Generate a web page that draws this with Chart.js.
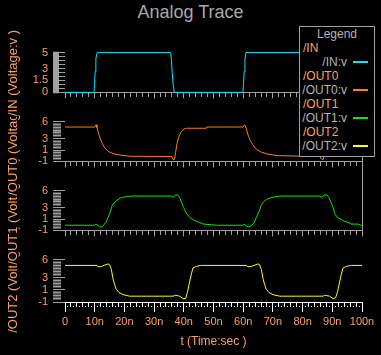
<!DOCTYPE html>
<html><head><meta charset="utf-8">
<script src="https://cdn.jsdelivr.net/npm/chart.js@4"></script>
<style>
html,body{margin:0;padding:0;background:#000;}
#wrap{position:relative;width:381px;height:355px;overflow:hidden;background:#000;font-family:'Liberation Sans',Arial,sans-serif;}
.pc{position:absolute;left:0;z-index:1;}
.yt{position:absolute;left:12px;white-space:nowrap;color:#ffa060;font-size:13px;line-height:13px;background:#000;transform:translate(-50%,-50%) rotate(-90deg);padding:0 1px;}
.lg{position:absolute;font-size:12px;line-height:14px;white-space:nowrap;z-index:11;}
.ln{position:absolute;left:353px;width:15px;height:2px;z-index:11;}
</style>
</head><body>
<div id="wrap">
  <div style="position:absolute;left:0;top:3px;width:381px;text-align:center;color:#a8a8a8;font-size:18px;line-height:18px;">Analog Trace</div>

  <div class="yt" style="top:279px;z-index:2;">/OUT2 (Voltage:v )</div>
  <div class="yt" style="top:210.5px;z-index:3;">/OUT1 (Voltage:v )</div>
  <div class="yt" style="top:141.5px;z-index:4;">/OUT0 (Voltage:v )</div>
  <div class="yt" style="top:73px;z-index:5;">/IN (Voltage:v )</div>

  <canvas id="c1" class="pc" width="381" height="63" style="top:41px"></canvas>
  <canvas id="c2" class="pc" width="381" height="63" style="top:110px"></canvas>
  <canvas id="c3" class="pc" width="381" height="63" style="top:179px"></canvas>
  <canvas id="c4" class="pc" width="381" height="107" style="top:248px"></canvas>

  <div style="position:absolute;left:362px;top:150px;width:1px;height:84px;background:#a0a0a0;z-index:9;"></div>

  <div style="position:absolute;left:299px;top:26px;width:76px;height:131px;box-sizing:border-box;border:1px solid #a0a0a0;background:#000;z-index:10;"></div>
  <div class="lg" style="left:299px;width:76px;text-align:center;top:27px;color:#b4b4b4;">Legend</div>
  <div class="lg" style="left:303px;top:41px;color:#ffa060;">/IN</div>
  <div class="lg" style="left:299px;width:48px;text-align:right;top:55px;color:#b4b4b4;">/IN:v</div>
  <div class="ln" style="top:61px;background:#00e8ff;"></div>
  <div class="lg" style="left:303px;top:69px;color:#ffa060;">/OUT0</div>
  <div class="lg" style="left:299px;width:48px;text-align:right;top:83px;color:#b4b4b4;">/OUT0:v</div>
  <div class="ln" style="top:89px;background:#ff7f00;"></div>
  <div class="lg" style="left:303px;top:97px;color:#ffa060;">/OUT1</div>
  <div class="lg" style="left:299px;width:48px;text-align:right;top:111px;color:#b4b4b4;">/OUT1:v</div>
  <div class="ln" style="top:117px;background:#00ee00;"></div>
  <div class="lg" style="left:303px;top:125px;color:#ffa060;">/OUT2</div>
  <div class="lg" style="left:299px;width:48px;text-align:right;top:139px;color:#b4b4b4;">/OUT2:v</div>
  <div class="ln" style="top:145px;background:#ffff00;"></div>
</div>
<script>
// ---- data (time in ns, voltage in V) ----
const inTime  = [0, 9.76, 9.95, 10.15, 10.4, 10.8, 35.6, 35.8, 36.1, 36.4, 36.8, 59.9, 60.1, 60.3, 60.6, 60.9, 85.6, 85.8, 86.1, 86.4, 86.8, 100];
const inVolt  = [0, 0, 1.0, 2.6, 4.2, 5, 5, 4.2, 2.5, 1.0, 0, 0, 1.0, 2.6, 4.2, 5, 5, 4.2, 2.5, 1.0, 0, 0];

const out0Time = [0, 10.0, 10.44, 10.77, 11.45, 11.9, 12.57, 13.36, 14.48, 16.16, 18.41, 21.77, 35.91, 36.36, 36.92, 37.26, 37.71, 38.38, 39.17, 40.07, 40.85, 47.5, 47.6, 59.93, 60.49, 61.05, 61.62, 62.4, 63.3, 64.42, 66.1, 68.35, 71.72, 85.75, 86.53, 87.0, 87.3, 87.7, 88.4, 89.2, 90.1, 90.9, 97.6, 100];
const out0Volt = [5.04, 5.04, 5.44, 4.93, 3.67, 2.91, 2.14, 1.38, 0.77, 0.37, 0.11, -0.09, -0.14, -0.65, -0.65, 0.62, 2.14, 3.41, 4.27, 4.68, 4.83, 4.83, 5.04, 5.04, 5.44, 4.78, 3.67, 2.65, 1.89, 1.13, 0.62, 0.27, 0.01, -0.14, -0.65, -0.65, 0.62, 2.14, 3.41, 4.27, 4.68, 4.83, 5.04, 5.04];

const out1Time = [0, 10.0, 10.33, 11.11, 11.67, 12.46, 13.13, 13.92, 14.48, 15.26, 15.94, 16.72, 17.85, 18.97, 20.65, 22.33, 35.8, 36.36, 37.26, 38.05, 38.61, 39.17, 39.96, 40.85, 41.98, 43.1, 44.22, 45.34, 46.69, 50.95, 59.93, 60.27, 61.05, 61.95, 62.74, 63.64, 64.42, 65.32, 66.1, 66.89, 67.79, 68.91, 70.59, 72.28, 85.75, 86.31, 87.43, 88.22, 88.89, 89.45, 90.24, 90.8, 91.69, 93.04, 94.16, 95.62, 96.41, 98.65, 99.89];
const out1Volt = [-0.09, -0.09, 0.11, -0.14, -0.39, -0.39, 0.01, 0.51, 1.27, 2.27, 3.43, 3.94, 4.44, 4.79, 4.94, 5.04, 5.04, 4.84, 5.24, 5.24, 4.79, 4.04, 3.03, 2.02, 1.27, 0.91, 0.61, 0.36, 0.11, -0.09, -0.09, 0.11, -0.24, -0.39, -0.14, 0.26, 1.27, 2.27, 3.43, 4.04, 4.44, 4.69, 4.89, 5.04, 5.04, 4.84, 5.24, 5.24, 4.79, 4.04, 3.03, 2.02, 1.27, 0.91, 0.61, 0.36, 0.11, 0.11, -0.09];

const out2Time = [0, 10.77, 11.11, 12.23, 12.79, 14.48, 15.04, 15.6, 16.16, 16.72, 17.28, 18.18, 19.53, 21.77, 36.36, 37.26, 38.61, 39.73, 40.63, 41.19, 41.75, 42.54, 43.1, 44.22, 45.9, 61.05, 61.62, 62.74, 64.98, 65.54, 66.1, 66.67, 67.23, 67.79, 68.69, 70.03, 72.28, 86.87, 87.43, 89.11, 90.24, 91.13, 91.69, 92.26, 93.04, 93.6, 94.73, 96.41, 100];
const out2Volt = [5.04, 5.04, 4.83, 4.83, 4.99, 5.29, 5.14, 4.38, 2.85, 1.84, 1.08, 0.57, 0.22, -0.04, -0.04, 0.11, -0.04, -0.44, -0.44, 0.57, 1.84, 3.62, 4.63, 4.88, 5.04, 5.04, 4.83, 4.88, 5.29, 5.14, 4.38, 2.85, 1.84, 1.08, 0.57, 0.22, -0.04, -0.04, 0.11, -0.04, -0.44, -0.29, 0.57, 1.84, 3.62, 4.63, 4.88, 5.04, 5.04];

// ---- tick labels ----
const xTickValues = [0, 10, 20, 30, 40, 50, 60, 70, 80, 90, 100];
const xTickLabels = ['0', '10n', '20n', '30n', '40n', '50n', '60n', '70n', '80n', '90n', '100n'];
const inYTickValues = [0, 1.5, 3, 5];
const inYTickLabels = ['0', '1.5', '3', '5'];
const outYTickValues = [-1, 1, 3, 6];
const outYTickLabels = ['-1', '1', '3', '6'];

const GRAY = '#a0a0a0';
const ORANGE = '#ffa060';
const FONT = {family: "'Liberation Sans', Arial, sans-serif", size: 12};
const TICKFONT = {family: "'Liberation Sans', Arial, sans-serif", size: 11};

function range(a, b, step) {
  const out = [];
  const n = Math.round((b - a) / step);
  for (let i = 0; i <= n; i++) out.push(Math.round((a + i * step) * 1000) / 1000);
  return out;
}
function near(v, list) { return list.findIndex(x => Math.abs(x - v) < 1e-6); }

function makeChart(id, cfg) {
  const xTicks = cfg.bottom ? range(0, 100, 1) : range(0, 100, 2);
  const yTicks = Array.from(new Set(cfg.yDense.concat(cfg.yLong).concat(cfg.yLabelVals)))
    .sort((a, b) => a - b);
  return new Chart(document.getElementById(id), {
    type: 'line',
    data: {
      datasets: [{
        data: cfg.t.map((x, i) => ({x: x, y: cfg.v[i]})),
        borderColor: cfg.color, borderWidth: 1, pointRadius: 0, tension: 0,
        fill: false, clip: 4
      }]
    },
    options: {
      responsive: false, animation: false, events: [],
      layout: {padding: {top: 8, right: 19, bottom: cfg.padBottom, left: 0}},
      plugins: {legend: {display: false}, tooltip: {enabled: false}},
      scales: {
        x: {
          type: 'linear', min: 0, max: 100,
          afterBuildTicks: s => { s.ticks = xTicks.map(v => ({value: v})); },
          afterFit: s => { s.height = cfg.xAxisH; },
          border: {display: true, color: cfg.bottom ? '#ffffff' : GRAY, width: 1},
          grid: {
            drawOnChartArea: false, drawTicks: true,
            tickLength: cfg.bottom ? 10 : 6,
            tickColor: cfg.bottom ? '#ffffff' : GRAY,
            tickWidth: 1,
            tickBorderDash: c => {
              const v = c.tick ? c.tick.value : 0;
              if (v % 10 === 0) return [];
              if (cfg.bottom && v % 2 === 1) return [0, 3, 1, 100];
              return [4, 100];
            }
          },
          ticks: {
            display: !!cfg.bottom, autoSkip: false, maxRotation: 0,
            color: ORANGE, font: TICKFONT, padding: 3,
            callback: v => { const k = near(v, xTickValues); return k >= 0 ? xTickLabels[k] : ''; }
          },
          title: {
            display: !!cfg.bottom, text: 't (Time:sec )', color: ORANGE, font: FONT, padding: 0
          }
        },
        y: {
          type: 'linear', min: cfg.yMin, max: cfg.yMax,
          afterBuildTicks: s => { s.ticks = yTicks.map(v => ({value: v})); },
          afterFit: s => { s.width = 65; },
          border: {display: false},
          grid: {
            drawOnChartArea: false, drawTicks: true, tickLength: 12, tickColor: GRAY,
            tickWidth: c => {
              const v = c.tick ? c.tick.value : 0;
              return (near(v, cfg.yLong) < 0 && near(v, cfg.yLabelVals) < 0) ? cfg.denseWidth : 1;
            },
            tickBorderDash: c => {
              const v = c.tick ? c.tick.value : 0;
              if (near(v, cfg.yLabelVals) >= 0 || near(v, cfg.yLong) >= 0) return [];
              return [cfg.denseLen, 100];
            }
          },
          ticks: {
            autoSkip: false, color: ORANGE, font: TICKFONT, padding: 5,
            callback: v => { const k = near(v, cfg.yLabelVals); return k >= 0 ? cfg.yLabels[k] : ''; }
          }
        }
      }
    }
  });
}

makeChart('c1', {t: inTime, v: inVolt, color: '#00e8ff', yMin: 0, yMax: 5,
  yLabelVals: inYTickValues, yLabels: inYTickLabels,
  yDense: range(0, 5, 0.05), yLong: range(0, 5, 0.5), denseLen: 6, denseWidth: 1.5,
  padBottom: 0, xAxisH: 8});
makeChart('c2', {t: out0Time, v: out0Volt, color: '#ff7f00', yMin: -1, yMax: 6,
  yLabelVals: outYTickValues, yLabels: outYTickLabels,
  yDense: range(-1, 6, 0.5), yLong: [], denseLen: 8, denseWidth: 2,
  padBottom: 0, xAxisH: 8});
makeChart('c3', {t: out1Time, v: out1Volt, color: '#00ee00', yMin: -1, yMax: 6,
  yLabelVals: outYTickValues, yLabels: outYTickLabels,
  yDense: range(-1, 6, 0.5), yLong: [], denseLen: 8, denseWidth: 2,
  padBottom: 0, xAxisH: 8});
makeChart('c4', {t: out2Time, v: out2Volt, color: '#ffff00', yMin: -1, yMax: 6,
  yLabelVals: outYTickValues, yLabels: outYTickLabels,
  yDense: range(-1, 6, 0.5), yLong: [], denseLen: 8, denseWidth: 2,
  padBottom: 6, xAxisH: 47, bottom: true});
</script>
</body></html>
